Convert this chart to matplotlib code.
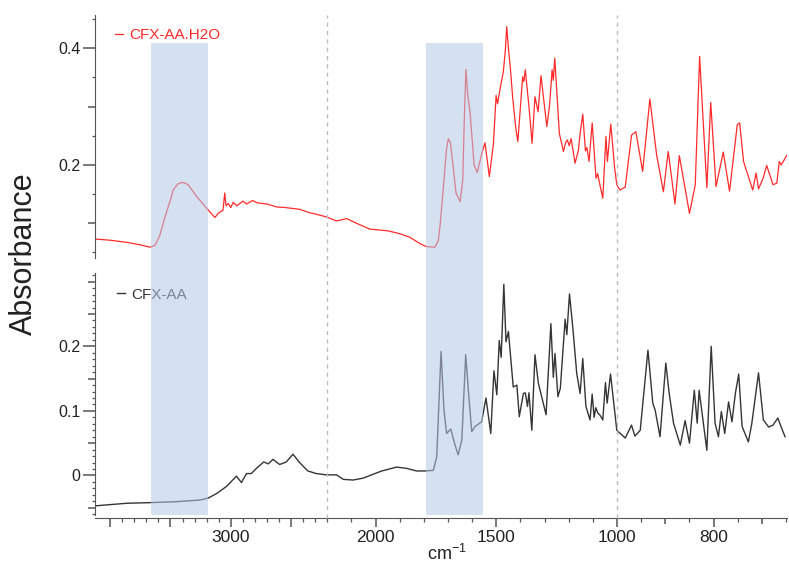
"""
FTIR spectra of CFX-AA and CFX-AA.H2O on a split wavenumber axis
"""

import numpy as np
import matplotlib
matplotlib.use('Agg')
import matplotlib.pyplot as plt
from matplotlib.ticker import FixedLocator, FixedFormatter
from matplotlib.transforms import blended_transform_factory
from matplotlib.patches import Rectangle
from matplotlib.lines import Line2D

plt.rcParams['font.family'] = ['Liberation Sans', 'DejaVu Sans']
plt.rcParams['mathtext.fontset'] = 'custom'
plt.rcParams['mathtext.rm'] = 'Liberation Sans'
plt.rcParams['mathtext.it'] = 'Liberation Sans:italic'

# (wavenumber cm-1, absorbance)
h2o_points = [
    (4124, 0.073), (4000, 0.071), (3850, 0.067), (3750, 0.063), (3669, 0.059),
    (3628, 0.062), (3590, 0.078), (3545, 0.111), (3500, 0.140), (3477, 0.157),
    (3440, 0.167), (3407, 0.170), (3380, 0.169), (3353, 0.166), (3283, 0.146),
    (3201, 0.126), (3150, 0.114), (3132, 0.110), (3100, 0.118), (3065, 0.122),
    (3050, 0.152), (3040, 0.130), (3022, 0.134), (3000, 0.127), (2980, 0.136),
    (2950, 0.130), (2900, 0.138), (2870, 0.133), (2820, 0.139), (2780, 0.135),
    (2700, 0.133), (2620, 0.128), (2550, 0.127), (2430, 0.124), (2347, 0.118),
    (2300, 0.116), (2209, 0.111), (2162, 0.104), (2120, 0.108), (2079, 0.100),
    (2024, 0.090), (1948, 0.087), (1899, 0.082), (1858, 0.076), (1816, 0.065),
    (1789, 0.060), (1754, 0.059), (1740, 0.071), (1733, 0.097), (1720, 0.158),
    (1707, 0.225), (1699, 0.245), (1690, 0.238), (1680, 0.200), (1667, 0.152),
    (1650, 0.137), (1639, 0.175), (1632, 0.290), (1626, 0.364), (1618, 0.318),
    (1609, 0.291), (1592, 0.200), (1579, 0.187), (1562, 0.217), (1547, 0.238),
    (1529, 0.180), (1512, 0.237), (1501, 0.319), (1495, 0.305), (1485, 0.329),
    (1471, 0.360), (1463, 0.395), (1457, 0.437), (1450, 0.400), (1443, 0.371),
    (1432, 0.314), (1420, 0.265), (1411, 0.240), (1400, 0.300), (1391, 0.351),
    (1386, 0.343), (1380, 0.363), (1365, 0.300), (1352, 0.237), (1340, 0.317),
    (1327, 0.291), (1315, 0.353), (1305, 0.317), (1291, 0.266), (1280, 0.300),
    (1269, 0.363), (1264, 0.345), (1258, 0.383), (1239, 0.254), (1222, 0.223),
    (1214, 0.237), (1206, 0.243), (1198, 0.233), (1190, 0.245), (1174, 0.203),
    (1160, 0.225), (1153, 0.254), (1142, 0.287), (1131, 0.224), (1125, 0.230),
    (1116, 0.206), (1103, 0.272), (1087, 0.177), (1080, 0.185), (1074, 0.172),
    (1059, 0.143), (1046, 0.249), (1040, 0.206), (1026, 0.270), (1010, 0.195),
    (1001, 0.166), (994, 0.157), (983, 0.162), (970, 0.251), (961, 0.257),
    (947, 0.189), (932, 0.313), (918, 0.217), (904, 0.154), (894, 0.223),
    (880, 0.133), (871, 0.216), (850, 0.117), (838, 0.166), (829, 0.386),
    (814, 0.161), (806, 0.307), (795, 0.163), (780, 0.222), (767, 0.155),
    (751, 0.269), (746, 0.272), (738, 0.206), (719, 0.157), (712, 0.186),
    (707, 0.159), (698, 0.176), (690, 0.199), (677, 0.166), (669, 0.169),
    (664, 0.206), (660, 0.200), (648, 0.217),
]

aa_points = [
    (4124, -0.047), (3862, -0.043), (3669, -0.042), (3449, -0.0405), (3256, -0.038),
    (3188, -0.035), (3118, -0.028), (3036, -0.017), (2953, -0.001), (2912, -0.011),
    (2870, 0.003), (2830, 0.003), (2788, 0.011), (2727, 0.021), (2690, 0.018),
    (2650, 0.025), (2595, 0.017), (2540, 0.021), (2485, 0.033), (2430, 0.020),
    (2361, 0.007), (2292, 0.003), (2209, 0.001), (2162, 0.001), (2134, -0.006),
    (2093, -0.007), (2051, -0.004), (2010, 0.002), (1975, 0.007), (1913, 0.013),
    (1871, 0.011), (1830, 0.007), (1796, 0.007), (1761, 0.008), (1747, 0.029),
    (1729, 0.192), (1717, 0.101), (1706, 0.065), (1689, 0.072), (1671, 0.047),
    (1658, 0.032), (1643, 0.055), (1627, 0.187), (1616, 0.132), (1602, 0.068),
    (1588, 0.076), (1561, 0.083), (1543, 0.120), (1523, 0.065), (1510, 0.162),
    (1498, 0.125), (1488, 0.209), (1480, 0.183), (1469, 0.296), (1460, 0.207),
    (1450, 0.223), (1430, 0.137), (1415, 0.140), (1405, 0.091), (1388, 0.127),
    (1380, 0.128), (1371, 0.107), (1365, 0.128), (1353, 0.070), (1340, 0.187),
    (1326, 0.143), (1294, 0.094), (1274, 0.235), (1264, 0.152), (1257, 0.189),
    (1245, 0.122), (1235, 0.135), (1215, 0.242), (1208, 0.218), (1197, 0.281),
    (1183, 0.228), (1167, 0.158), (1153, 0.127), (1142, 0.181), (1129, 0.107),
    (1112, 0.086), (1103, 0.126), (1095, 0.090), (1088, 0.105), (1080, 0.097),
    (1070, 0.093), (1059, 0.086), (1048, 0.144), (1041, 0.112), (1027, 0.157),
    (1001, 0.070), (983, 0.058), (970, 0.078), (963, 0.061), (952, 0.070),
    (936, 0.194), (926, 0.112), (921, 0.101), (911, 0.060), (899, 0.174),
    (892, 0.127), (883, 0.081), (869, 0.047), (859, 0.085), (850, 0.050),
    (840, 0.132), (834, 0.081), (830, 0.132), (814, 0.039), (805, 0.200),
    (797, 0.081), (790, 0.060), (784, 0.099), (777, 0.065), (769, 0.114),
    (762, 0.083), (755, 0.127), (748, 0.157), (741, 0.076), (728, 0.052),
    (721, 0.080), (707, 0.159), (697, 0.086), (686, 0.075), (677, 0.078),
    (667, 0.089), (660, 0.075), (652, 0.060),
]

series_labels = ['CFX-AA.H2O', 'CFX-AA']
series_colors = ['#ff2b2b', '#353535']

# highlighted wavenumber ranges
bands = [(3664, 3190), (1792, 1556)]
# axis breaks (dashed lines)
breaks = [2200, 1000]

x_major = [4000, 3500, 3000, 2500, 2000, 1500, 1000, 900, 800, 700]
x_major_labels = ['', '', '3000', '', '2000', '1500', '1000', '', '800', '']
x_medium = [900, 700]

top_major = [0.1, 0.2, 0.3, 0.4]
top_major_labels = ['', '0.2', '', '0.4']
bot_major = [-0.05, 0.0, 0.05, 0.1, 0.15, 0.2, 0.25, 0.3]
bot_major_labels = ['', '0', '', '0.1', '', '0.2', '', '']


def fwd(w):
    # piecewise-linear wavenumber axis: x1 above 2200, x2 to 1000, x4 below
    w = np.asarray(w, dtype=float)
    return np.where(w >= 2200, w, np.where(w >= 1000, 2 * w - 2200, 4 * w - 4200))


def inv(u):
    u = np.asarray(u, dtype=float)
    return np.where(u >= 2200, u, np.where(u >= -200, (u + 2200) / 2, (u + 4200) / 4))


W, H = 789, 565
fig = plt.figure(figsize=(W / 100, H / 100), dpi=100)

def px_box(left, top, right, bottom):
    return [left / W, 1 - bottom / H, (right - left) / W, (bottom - top) / H]

ax_top = fig.add_axes(px_box(95, 15, 787, 258))
ax_bot = fig.add_axes(px_box(95, 273, 787, 518), sharex=ax_top)

spine_col = '#555555'
for ax in (ax_top, ax_bot):
    ax.set_facecolor('none')
    ax.set_xscale('function', functions=(fwd, inv))
    for s in ('top', 'right'):
        ax.spines[s].set_visible(False)
    ax.spines['left'].set_color(spine_col)
    ax.spines['bottom'].set_color(spine_col)

ax_top.spines['bottom'].set_visible(False)
ax_top.tick_params(axis='x', which='both', bottom=False, labelbottom=False)

ax_top.set_xlim(4125, 648)
ax_top.set_ylim(0.0405, 0.457)
ax_bot.set_ylim(-0.0658, 0.3135)
ax_bot.spines['left'].set_bounds(-0.061, 0.3135)

# curves
for ax, pts, lab, col, lw in [(ax_top, h2o_points, series_labels[0], series_colors[0], 0.9),
                              (ax_bot, aa_points, series_labels[1], series_colors[1], 1.0)]:
    arr = np.array(pts)
    ax.plot(arr[:, 0], arr[:, 1], color=col, lw=lw, label=lab)

# x ticks
x_minor = [w for w in range(3900, 1000, -100) if w not in x_major] + [950, 850, 750, 650]
ax_bot.xaxis.set_major_locator(FixedLocator(x_major))
ax_bot.xaxis.set_major_formatter(FixedFormatter(x_major_labels))
ax_bot.xaxis.set_minor_locator(FixedLocator(x_minor))
ax_bot.tick_params(axis='x', which='major', direction='out', length=6.8, width=1.1,
                   color=spine_col, labelsize=12.5, pad=1.5, labelcolor='#222222')
ax_bot.tick_params(axis='x', which='minor', direction='out', length=2.6, width=0.9,
                   color=spine_col)

# y ticks
ax_top.yaxis.set_major_locator(FixedLocator(top_major))
ax_top.yaxis.set_major_formatter(FixedFormatter(top_major_labels))
ax_top.yaxis.set_minor_locator(FixedLocator([0.05, 0.15, 0.25, 0.35, 0.45]))
ax_bot.yaxis.set_major_locator(FixedLocator(bot_major))
ax_bot.yaxis.set_major_formatter(FixedFormatter(bot_major_labels))
ax_bot.yaxis.set_minor_locator(FixedLocator(np.round(np.arange(-0.06, 0.311, 0.01), 2)))
for ax in (ax_top, ax_bot):
    ax.tick_params(axis='y', which='major', direction='out', length=8.5, width=1.1,
                   color=spine_col, labelsize=11.5, pad=2, labelcolor='#222222')
    ax.tick_params(axis='y', which='minor', direction='out', length=2.5, width=0.9,
                   color=spine_col)

# medium-length ticks (unlabelled half steps)
for t, v in zip(ax_bot.xaxis.get_major_ticks(), x_major):
    if v in x_medium:
        t.tick1line.set_markersize(4.3)
for t, lab in zip(ax_top.yaxis.get_major_ticks(), top_major_labels):
    if lab == '':
        t.tick1line.set_markersize(5.0)
for t, lab in zip(ax_bot.yaxis.get_major_ticks(), bot_major_labels):
    if lab == '':
        t.tick1line.set_markersize(5.0)

ax_bot.set_xlabel('cm$^{-1}$', fontsize=13, color='#222222')
ax_bot.xaxis.set_label_coords((447 - 95) / 692, -0.105)
fig.text(24 / W, 1 - 254 / H, 'Absorbance', rotation=90, ha='center', va='center',
         fontsize=22, color='#222222')

# legends
ax_top.legend(loc='upper left', bbox_to_anchor=(0.029, 0.945), frameon=False,
              handlelength=0.5, handletextpad=0.45, borderpad=0, borderaxespad=0,
              fontsize=11, labelcolor='linecolor')
ax_bot.legend(loc='upper left', bbox_to_anchor=(0.032, 0.94), frameon=False,
              handlelength=0.5, handletextpad=0.45, borderpad=0, borderaxespad=0,
              fontsize=11, labelcolor='linecolor')

# dashed break lines and shaded bands across both panels
trans = blended_transform_factory(ax_bot.transData, fig.transFigure)
for b in breaks:
    fig.add_artist(Line2D([b, b], [1 - 518 / H, 1 - 15 / H], transform=trans,
                          color='#bdbdbd', lw=1.0, ls=(0, (3, 3)), zorder=1))
for hi, lo in bands:
    fig.add_artist(Rectangle((hi, 1 - 515 / H), lo - hi, (515 - 43) / H, transform=trans,
                             facecolor='#b4c7e4', alpha=0.55, edgecolor='none', zorder=5))

fig.savefig('out.png', dpi=100)
